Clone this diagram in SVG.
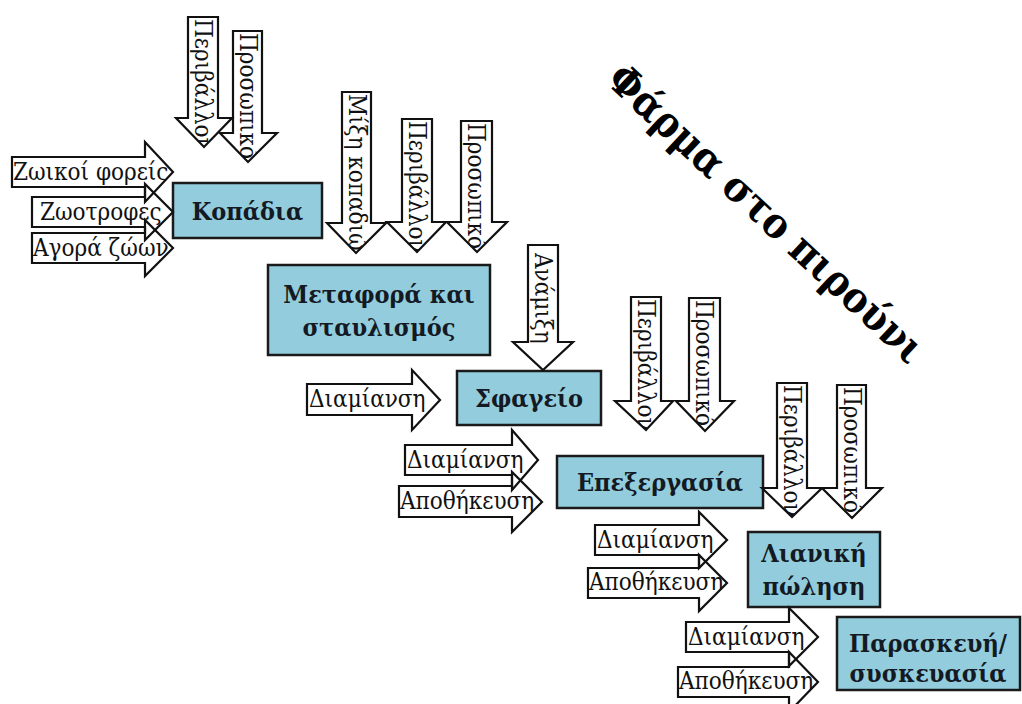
<svg xmlns="http://www.w3.org/2000/svg" xmlns:xlink="http://www.w3.org/1999/xlink" width="1022" height="704" viewBox="0 0 1022 704">
<style>
.bg{fill:#ffffff}
.arr{fill:none;stroke:#111;stroke-width:2.2;stroke-linejoin:miter}
.box{fill:#93CDDD;stroke:#1a1a1a;stroke-width:2.5}
.lbl{font-family:"DejaVu Serif Condensed","DejaVu Serif",serif;font-size:24px;fill:#111}
.bt{font-family:"DejaVu Serif Condensed","DejaVu Serif",serif;font-size:25px;font-weight:bold;fill:#141a24;text-anchor:middle}
.title{font-family:"DejaVu Serif Condensed","DejaVu Serif",serif;font-size:42px;font-weight:bold;fill:#000;text-anchor:middle}
</style>
<defs>
<polygon id="d1" points="188,17 218,17 218,118 232,118 204,147 176,118 188,118"/>
<polygon id="d2" points="233,31 262,31 262,133 277,133 248,162 220,133 233,133"/>
<polygon id="d3" points="342,92 371,92 371,223 386,223 356,253 327,223 342,223"/>
<polygon id="d4" points="402,119 432,119 432,222 446,222 417,252 387,222 402,222"/>
<polygon id="d5" points="461,121 492,121 492,222 507,222 477,252 447,222 461,222"/>
<polygon id="d6" points="528,245 558,245 558,342 573,342 543,370 513,342 528,342"/>
<polygon id="d7" points="631,297 661,297 661,401 673,401 646,430 615,401 631,401"/>
<polygon id="d8" points="689,298 720,298 720,401 734,401 705,431 676,401 689,401"/>
<polygon id="d9" points="777,383 807,383 807,488 822,488 792,517 762,488 777,488"/>
<polygon id="d10" points="837,385 866,385 866,488 882,488 852,518 822,488 837,488"/>
<polygon id="h1" points="12,157 145,157 145,142 173,172 145,202 145,187 12,187"/>
<polygon id="h2" points="32,197 145,197 145,184 173,212 145,240 145,227 32,227"/>
<polygon id="h3" points="32,233 145,233 145,220 173,248 145,276 145,263 32,263"/>
<polygon id="h4" points="307,384 412,384 412,370 440,400 412,430 412,415 307,415"/>
<polygon id="h5" points="405,445 512,445 512,430 538,460 512,490 512,475 405,475"/>
<polygon id="h6" points="399,486 512,486 512,472 542,502 512,532 512,517 399,517"/>
<polygon id="h7" points="595,525 699,525 699,512 727,540 699,568 699,555 595,555"/>
<polygon id="h8" points="588,568 699,568 699,555 727,583 699,611 699,598 588,598"/>
<polygon id="h9" points="686,622 789,622 789,608 818,637 789,666 789,652 686,652"/>
<polygon id="h10" points="678,667 789,667 789,652 818,682 789,712 789,697 678,697"/>
<clipPath id="cd1"><use xlink:href="#d1"/></clipPath>
<clipPath id="cd2"><use xlink:href="#d2"/></clipPath>
<clipPath id="cd3"><use xlink:href="#d3"/></clipPath>
<clipPath id="cd4"><use xlink:href="#d4"/></clipPath>
<clipPath id="cd5"><use xlink:href="#d5"/></clipPath>
<clipPath id="cd6"><use xlink:href="#d6"/></clipPath>
<clipPath id="cd7"><use xlink:href="#d7"/></clipPath>
<clipPath id="cd8"><use xlink:href="#d8"/></clipPath>
<clipPath id="cd9"><use xlink:href="#d9"/></clipPath>
<clipPath id="cd10"><use xlink:href="#d10"/></clipPath>
<clipPath id="ch1"><use xlink:href="#h1"/></clipPath>
<clipPath id="ch2"><use xlink:href="#h2"/></clipPath>
<clipPath id="ch3"><use xlink:href="#h3"/></clipPath>
<clipPath id="ch4"><use xlink:href="#h4"/></clipPath>
<clipPath id="ch5"><use xlink:href="#h5"/></clipPath>
<clipPath id="ch6"><use xlink:href="#h6"/></clipPath>
<clipPath id="ch7"><use xlink:href="#h7"/></clipPath>
<clipPath id="ch8"><use xlink:href="#h8"/></clipPath>
<clipPath id="ch9"><use xlink:href="#h9"/></clipPath>
<clipPath id="ch10"><use xlink:href="#h10"/></clipPath>
</defs>
<rect class="bg" x="0" y="0" width="1022" height="704"/>

<g id="title">
<text class="title" transform="translate(764,216) rotate(43)" y="11">Φάρμα στο πιρούνι</text>
</g>

<g id="nodes">
<g id="kopadia"><rect class="box" x="173" y="183" width="149" height="55"/><text class="bt" x="247.5" y="220">Κοπάδια</text></g>
<g id="metafora"><rect class="box" x="268" y="265" width="222" height="90"/><text class="bt" x="379" y="303">Μεταφορά και</text><text class="bt" x="379" y="336">σταυλισμός</text></g>
<g id="sfageio"><rect class="box" x="457" y="371" width="144" height="54"/><text class="bt" x="529" y="407">Σφαγείο</text></g>
<g id="epexergasia"><rect class="box" x="557" y="456" width="206" height="52"/><text class="bt" x="660" y="491">Επεξεργασία</text></g>
<g id="lianiki"><rect class="box" x="748" y="532" width="132" height="75"/><text class="bt" x="814" y="562">Λιανική</text><text class="bt" x="814" y="595">πώληση</text></g>
<g id="paraskevi"><rect class="box" x="837" y="617" width="183" height="73"/><text class="bt" x="928" y="652">Παρασκευή/</text><text class="bt" x="928" y="682">συσκευασία</text></g>
</g>

<g id="connectors">
<g id="a-d1"><use class="arr" xlink:href="#d1"/><g clip-path="url(#cd1)"><text class="lbl" transform="translate(195,19) rotate(90)">Περιβάλλον</text></g></g>
<g id="a-d2"><use class="arr" xlink:href="#d2"/><g clip-path="url(#cd2)"><text class="lbl" transform="translate(240,33) rotate(90)">Προσωπικό</text></g></g>
<g id="a-h1"><use class="arr" xlink:href="#h1"/><text class="lbl" clip-path="url(#ch1)" x="13" y="180">Ζωικοί φορείς</text></g>
<g id="a-h2"><use class="arr" xlink:href="#h2"/><text class="lbl" clip-path="url(#ch2)" x="40" y="220">Ζωοτροφες</text></g>
<g id="a-h3"><use class="arr" xlink:href="#h3"/><text class="lbl" clip-path="url(#ch3)" x="33" y="256">Αγορά ζώων</text></g>
<g id="a-d3"><use class="arr" xlink:href="#d3"/><g clip-path="url(#cd3)"><text class="lbl" transform="translate(349,94) rotate(90)">Μίξη κοπαδιών</text></g></g>
<g id="a-d4"><use class="arr" xlink:href="#d4"/><g clip-path="url(#cd4)"><text class="lbl" transform="translate(409,121) rotate(90)">Περιβάλλον</text></g></g>
<g id="a-d5"><use class="arr" xlink:href="#d5"/><g clip-path="url(#cd5)"><text class="lbl" transform="translate(468,123) rotate(90)">Προσωπικό</text></g></g>
<g id="a-d6"><use class="arr" xlink:href="#d6"/><g clip-path="url(#cd6)"><text class="lbl" transform="translate(535,253) rotate(90)">Ανάμιξη</text></g></g>
<g id="a-h4"><use class="arr" xlink:href="#h4"/><text class="lbl" clip-path="url(#ch4)" x="309" y="407">Διαμίανση</text></g>
<g id="a-d7"><use class="arr" xlink:href="#d7"/><g clip-path="url(#cd7)"><text class="lbl" transform="translate(638,299) rotate(90)">Περιβάλλον</text></g></g>
<g id="a-d8"><use class="arr" xlink:href="#d8"/><g clip-path="url(#cd8)"><text class="lbl" transform="translate(696,300) rotate(90)">Προσωπικό</text></g></g>
<g id="a-h5"><use class="arr" xlink:href="#h5"/><text class="lbl" clip-path="url(#ch5)" x="407" y="468">Διαμίανση</text></g>
<g id="a-h6"><use class="arr" xlink:href="#h6"/><text class="lbl" clip-path="url(#ch6)" x="400" y="509">Αποθήκευση</text></g>
<g id="a-d9"><use class="arr" xlink:href="#d9"/><g clip-path="url(#cd9)"><text class="lbl" transform="translate(784,385) rotate(90)">Περιβάλλον</text></g></g>
<g id="a-d10"><use class="arr" xlink:href="#d10"/><g clip-path="url(#cd10)"><text class="lbl" transform="translate(844,387) rotate(90)">Προσωπικό</text></g></g>
<g id="a-h7"><use class="arr" xlink:href="#h7"/><text class="lbl" clip-path="url(#ch7)" x="597" y="548">Διαμίανση</text></g>
<g id="a-h8"><use class="arr" xlink:href="#h8"/><text class="lbl" clip-path="url(#ch8)" x="589" y="590">Αποθήκευση</text></g>
<g id="a-h9"><use class="arr" xlink:href="#h9"/><text class="lbl" clip-path="url(#ch9)" x="688" y="645">Διαμίανση</text></g>
<g id="a-h10"><use class="arr" xlink:href="#h10"/><text class="lbl" clip-path="url(#ch10)" x="679" y="689">Αποθήκευση</text></g>
</g>
</svg>
